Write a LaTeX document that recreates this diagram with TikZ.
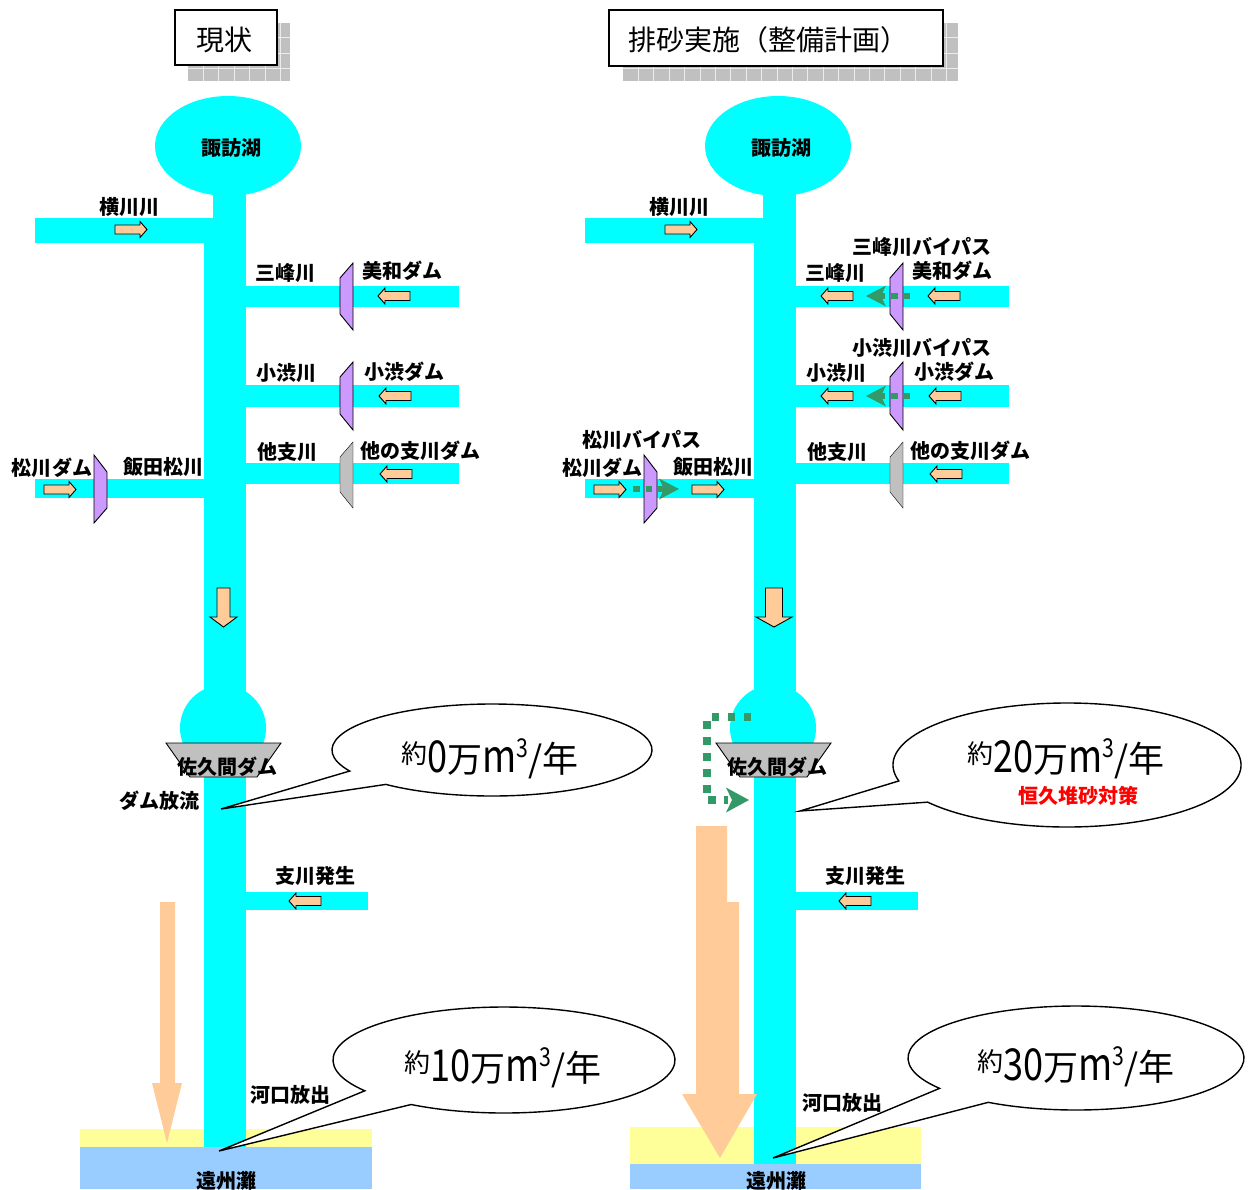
\documentclass[tikz,border=0pt]{standalone}
\usepackage{fontspec}
\setmainfont{Noto Sans CJK JP}
\newfontfamily\narrowf[FakeStretch=0.82]{Noto Sans CJK JP}
\definecolor{riv}{HTML}{00FFFF}
\definecolor{sand}{HTML}{FFCC99}
\definecolor{dampur}{HTML}{CC99FF}
\definecolor{damgray}{HTML}{C0C0C0}
\definecolor{byp}{HTML}{339966}
\definecolor{beach}{HTML}{FFFF99}
\definecolor{seab}{HTML}{99CCFF}
\definecolor{shadowg}{HTML}{C0C0C0}
\tikzset{
 river/.style={fill=riv},
 sarr/.style={fill=sand,draw=black,line width=0.9pt,line join=miter},
 bigarr/.style={fill=sand},
 pdam/.style={fill=dampur,draw=black,line width=0.9pt,line join=miter},
 gdam/.style={fill=damgray},
 sakdam/.style={fill=damgray,draw=black,line width=0.9pt,line join=miter},
 lbl/.style={inner sep=0pt,font=\fontsize{20}{22}\selectfont\bfseries},
 bypass/.style={draw=byp,line width=6.5pt,dash pattern=on 6.5pt off 6pt},
 bypassbig/.style={draw=byp,line width=7.5pt,dash pattern=on 7.5pt off 8.5pt},
 callout/.style={fill=white,draw=black,line width=1.4pt,line join=miter},
 titlebox/.style={draw=black,fill=white,line width=1.6pt,inner sep=0pt},
 titletxt/.style={inner sep=0pt,font=\fontsize{28}{30}\selectfont},
 gline/.style={draw=gray!15,line width=0.8pt},
 voltxt/.style={inner sep=0pt,anchor=base},
}
\newcommand\ArrL[2]{\draw[sarr] ({#1-16},#2)--({#1-9},{#2-8})--({#1-9},{#2-4.5})--({#1+16},{#2-4.5})--({#1+16},{#2+4.5})--({#1-9},{#2+4.5})--({#1-9},{#2+8})--cycle;}
\newcommand\ArrR[2]{\draw[sarr] ({#1+16},#2)--({#1+9},{#2-8})--({#1+9},{#2-4.5})--({#1-16},{#2-4.5})--({#1-16},{#2+4.5})--({#1+9},{#2+4.5})--({#1+9},{#2+8})--cycle;}
\newcommand\ArrD[3]{\draw[sarr] ({#1-#2},588)--({#1+#2},588)--({#1+#2},617)--({#1+#3},617)--(#1,627)--({#1-#3},617)--({#1-#2},617)--cycle;}
\newcommand\DamRV[4]{\draw[#4] ({#1+13},#2)--({#1+13},#3)--(#1,{#3-16})--(#1,{#2+15})--cycle;}
\newcommand\DamLV[4]{\draw[#4] (#1,#2)--(#1,#3)--({#1+13},{#3-15})--({#1+13},{#2+17})--cycle;}
\newcommand\HeadL[2]{\fill[byp] (#1,#2)--({#1+20},{#2-10.5})--({#1+15},#2)--({#1+20},{#2+10.5})--cycle;}
\newcommand\HeadR[2]{\fill[byp] (#1,#2)--({#1-20},{#2-10.5})--({#1-15},#2)--({#1-20},{#2+10.5})--cycle;}
\newcommand\VolTxt[1]{\raisebox{9pt}{\fontsize{26}{26}\selectfont 約}{\narrowf\fontsize{44}{44}\selectfont #1}{\fontsize{35}{35}\selectfont 万}{\narrowf\fontsize{45}{45}\selectfont m}\raisebox{15pt}{\narrowf\fontsize{26}{26}\selectfont 3}{\fontsize{36}{36}\selectfont /年}}
\newcommand\PanelCommon{%
 \fill[river] (228,146) ellipse[x radius=73,y radius=50];
 \fill[river] (213,180) rectangle (246,244);
 \fill[river] (35,218) rectangle (213.5,243);
 \fill[river] (245,286) rectangle (459,307);
 \fill[river] (245,385) rectangle (459,407);
 \fill[river] (245,463) rectangle (459,484);
 \fill[river] (35,479) rectangle (204,498);
 \fill[river] (245,892) rectangle (368,910);
 \fill[river] (223,728) circle[radius=43];
 \DamRV{340}{263}{330}{pdam}
 \DamRV{340}{362}{430}{pdam}
 \DamRV{340}{442}{508}{gdam}
 \DamLV{94}{455}{523}{pdam}
 \ArrR{131}{229.5}
 \ArrL{394}{296}
 \ArrL{395}{396}
 \ArrL{396}{474}
 \ArrR{60}{489.5}
 \ArrL{305}{901}
 \node[lbl] (lake) at (231,148) {諏訪湖};
 \node[lbl] (yoko) at (129,207) {横川川};
 \node[lbl] (mibu) at (285,273) {三峰川};
 \node[lbl] (miwa) at (402,271) {美和ダム};
 \node[lbl] (kosh) at (286,373) {小渋川};
 \node[lbl] (koshd) at (404,372) {小渋ダム};
 \node[lbl] (hoka) at (287,452) {他支川};
 \node[lbl] (hokad) at (420,451) {他の支川ダム};
 \node[lbl] (matd) at (52,468) {松川ダム};
 \node[lbl] (iida) at (163,467) {飯田松川};
 \node[lbl] (shih) at (315,876) {支川発生};
}
\begin{document}
\begin{tikzpicture}[x=1pt,y=-1pt]
\useasboundingbox (0,0) rectangle (1249,1189);
% title shadows
\fill[shadowg] (188,23) rectangle (290,81);
\foreach \gx in {203.3,218.7,...,290} \draw[gline] (\gx,23) -- (\gx,81);
\foreach \gy in {37.7,53.1,68.5} \draw[gline] (188,\gy) -- (290,\gy);
\fill[shadowg] (623,23) rectangle (958,81);
\foreach \gx in {638.3,653.7,...,958} \draw[gline] (\gx,23) -- (\gx,81);
\foreach \gy in {37.7,53.1,68.5} \draw[gline] (623,\gy) -- (958,\gy);
\node[titlebox,minimum width=102,minimum height=55] (t1) at (226,37.5) {};
\node[titletxt] (t1txt) at (224,40) {現状};
\node[titlebox,minimum width=334,minimum height=56] (t2) at (776,38) {};
\node[titletxt] (t2txt) at (768,40) {排砂実施（整備計画）};
% ---------- left panel ----------
\fill[beach] (80,1129) rectangle (372,1147);
\fill[seab] (80,1147) rectangle (372,1189);
\begin{scope}[name prefix=L-]
\PanelCommon
\end{scope}
\fill[river] (203.5,243) rectangle (245.5,1147);
\draw[sakdam] (166,743)--(281,743)--(257,777)--(190,777)--cycle;
\node[lbl] (L-saku) at (227,767) {佐久間ダム};
\ArrD{223.5}{6.5}{13.5}
\fill[bigarr] (160,902)--(175,902)--(175,1083)--(182,1083)--(167,1143)--(152,1083)--(160,1083)--cycle;
\node[lbl] (L-houryu) at (159,801) {ダム放流};
\node[lbl] (L-kako) at (290,1095) {河口放出};
\node[lbl] (L-ensh) at (226,1181) {遠州灘};
\draw[callout] (492,750) ++(152.8:160 and 46) arc[start angle=152.8,end angle=491.6,x radius=160,y radius=46] -- (221,809) -- cycle;
\node[voltxt] (L-v1) at (490,772) {\VolTxt{0}};
\draw[callout] (504,1060) ++(144.5:171 and 53) arc[start angle=144.5,end angle=482.9,x radius=171,y radius=53] -- (219,1151) -- cycle;
\node[voltxt] (L-v2) at (503,1081) {\VolTxt{10}};
% ---------- right panel ----------
\fill[beach] (630,1127) rectangle (921,1164);
\fill[seab] (630,1164) rectangle (921,1189);
\begin{scope}[xshift=550pt,name prefix=R-]
\PanelCommon
\end{scope}
\fill[river] (753.5,243) rectangle (795.5,1164);
\draw[sakdam] (716,743)--(831,743)--(807,777)--(740,777)--cycle;
\node[lbl] (R-saku) at (777,767) {佐久間ダム};
\ArrD{774}{8.5}{18}
\fill[bigarr] (696,826)--(727,826)--(727,902)--(739,902)--(739,1094)--(757,1094)--(720,1158)--(682,1094)--(696,1094)--cycle;
\ArrL{837}{296}
\ArrL{837}{396}
\ArrR{708}{489.5}
% bypasses
\draw[bypass] (910,296) -- (879,296);
\HeadL{866}{296}
\draw[bypass] (910,396) -- (879,396);
\HeadL{866}{396}
\draw[bypass] (633,489) -- (664,489);
\HeadR{679}{489}
\draw[bypassbig] (751,717) -- (707,717) -- (707,800) -- (728,800);
\fill[byp] (749,800)--(726,787.5)--(732,800)--(726,812.5)--cycle;
\node[lbl] (R-mbyp) at (922,247) {三峰川バイパス};
\node[lbl] (R-kbyp) at (922,348) {小渋川バイパス};
\node[lbl] (R-matbyp) at (642,440) {松川バイパス};
\node[lbl] (R-kako) at (842,1103) {河口放出};
\node[lbl] (R-ensh) at (776,1181) {遠州灘};
\draw[callout] (1067,765) ++(165.1:174 and 62) arc[start angle=165.1,end angle=503.2,x radius=174,y radius=62] -- (800,811) -- cycle;
\node[voltxt] (R-v1) at (1066,772) {\VolTxt{20}};
\node[lbl,text=red,font=\fontsize{20}{22}\selectfont\bfseries] (R-kyu) at (1078,796) {恒久堆砂対策};
\draw[callout] (1076,1058) ++(144.3:168 and 52) arc[start angle=144.3,end angle=481.5,x radius=168,y radius=52] -- (773,1158) -- cycle;
\node[voltxt] (R-v2) at (1076,1080) {\VolTxt{30}};
\end{tikzpicture}
\end{document}
